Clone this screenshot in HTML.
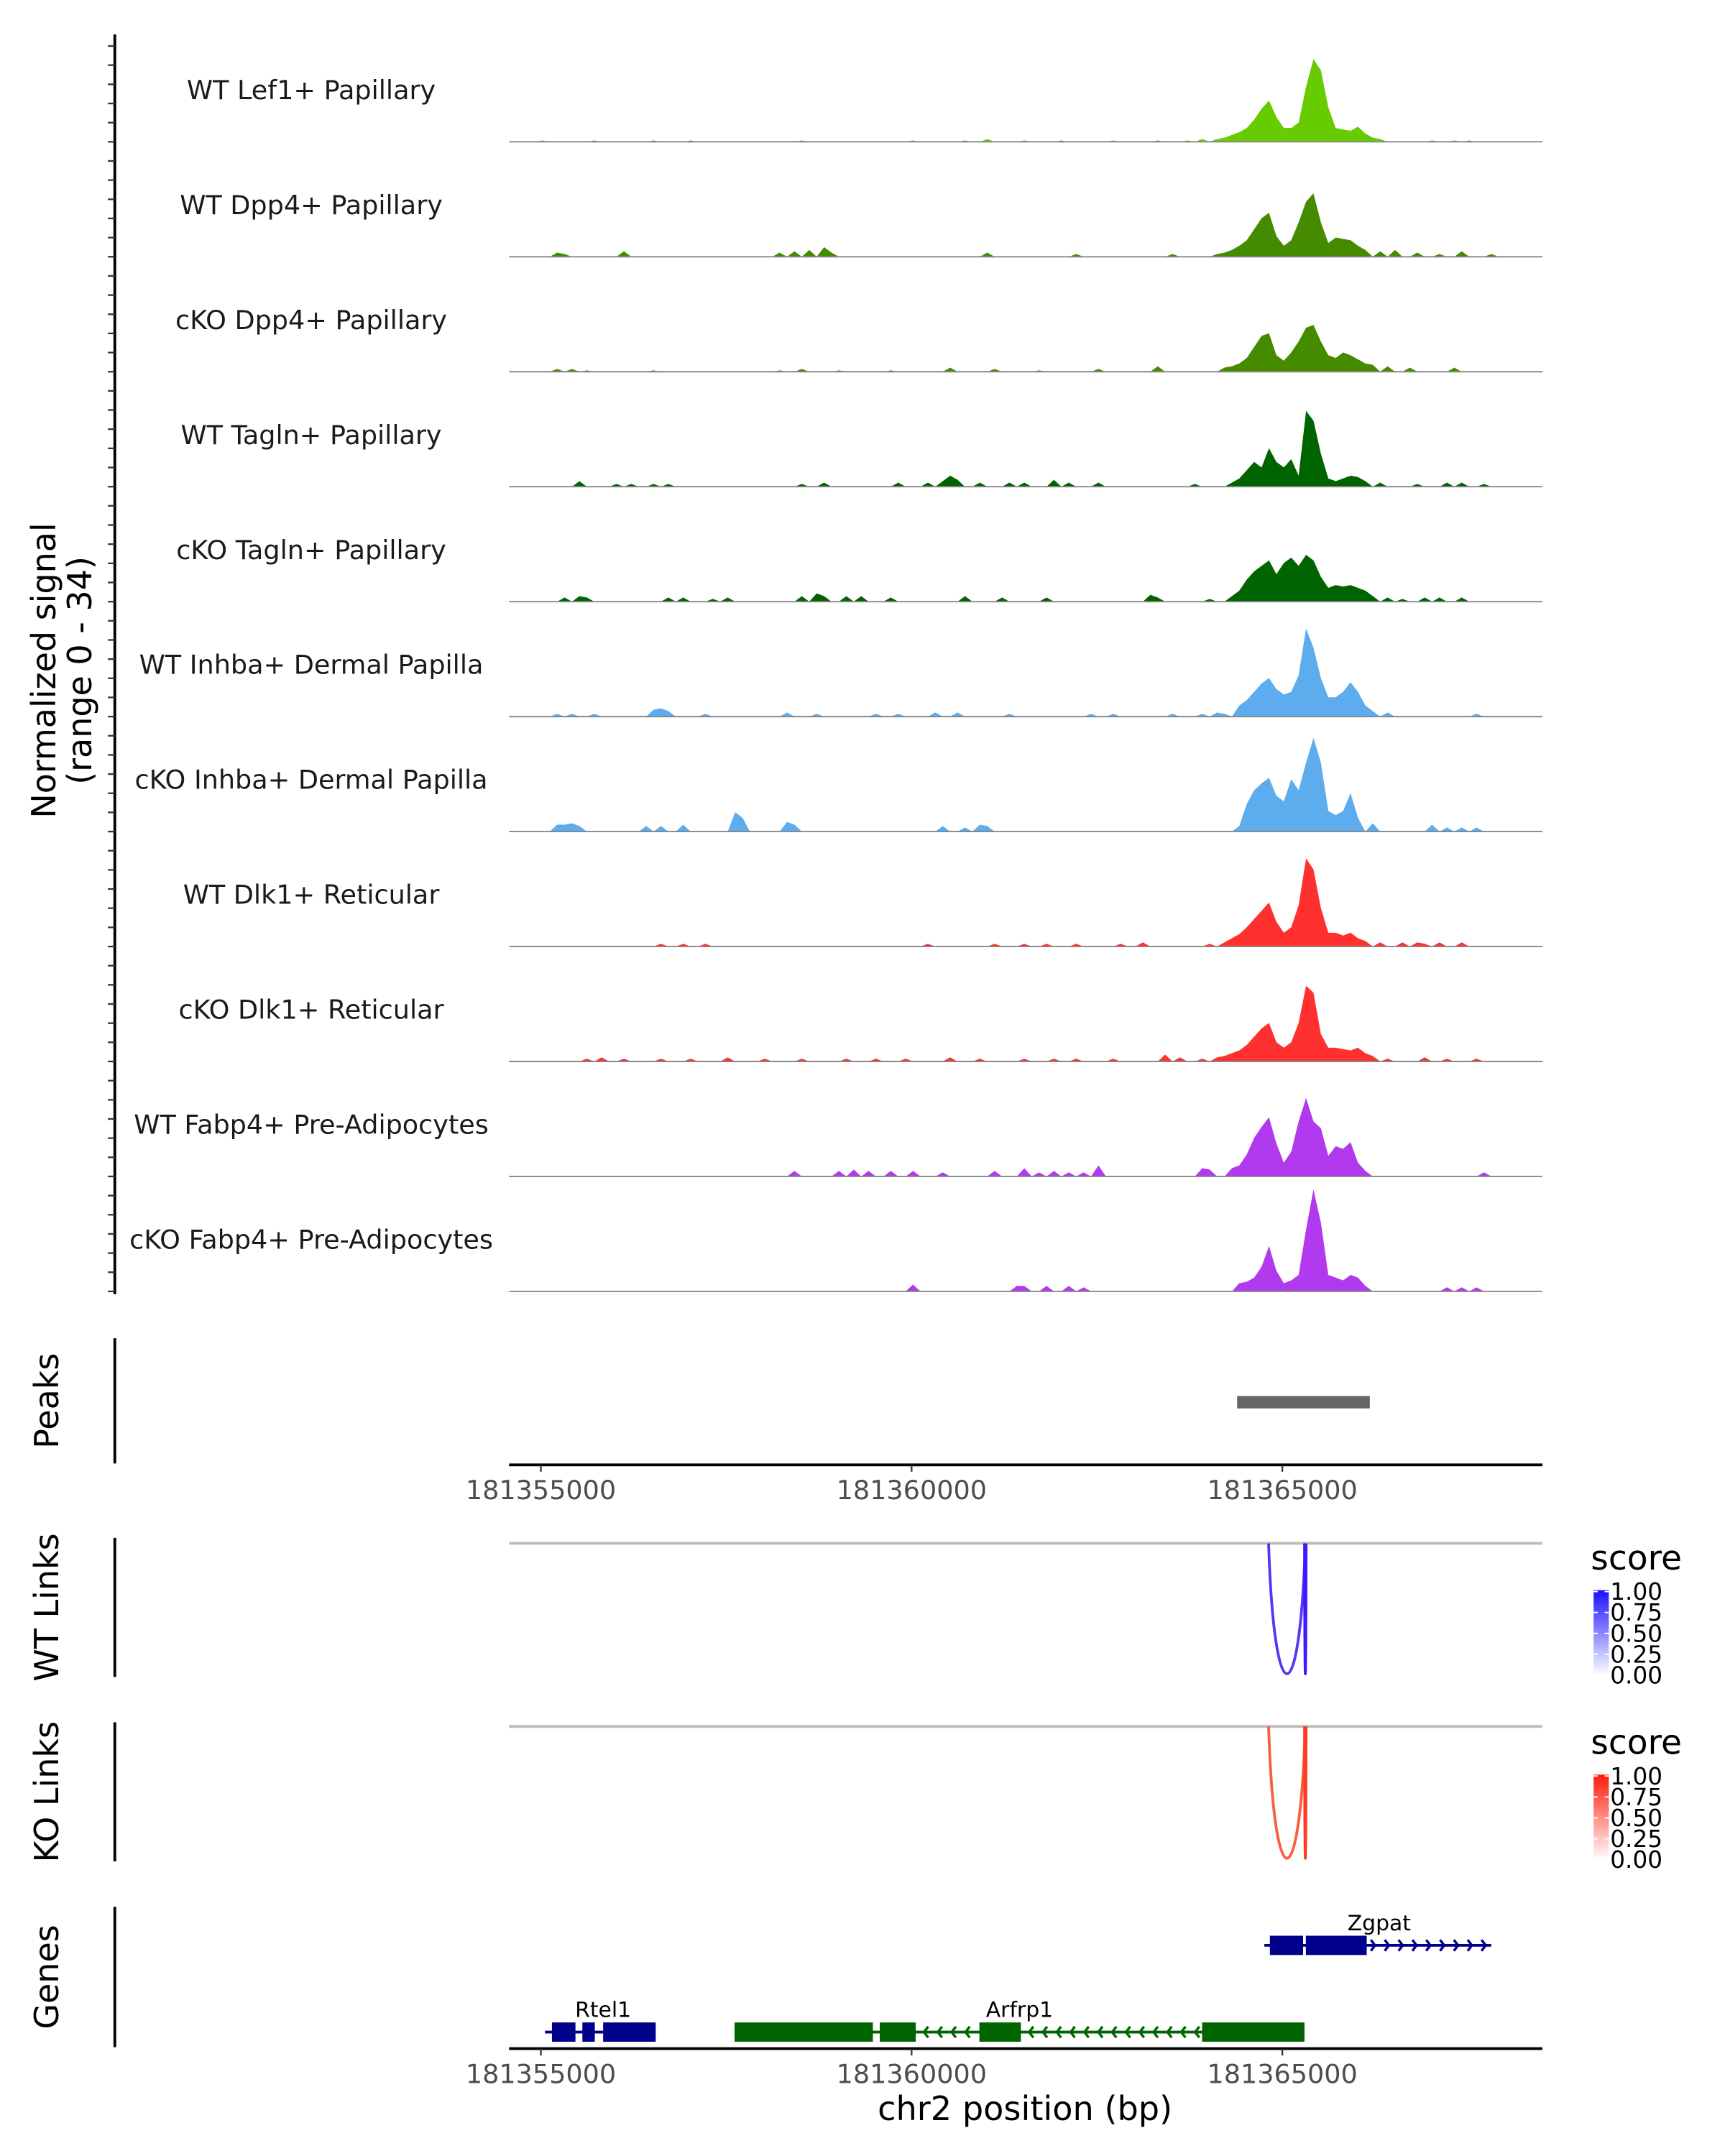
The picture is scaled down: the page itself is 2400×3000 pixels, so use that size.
<!DOCTYPE html>
<html><head><meta charset="utf-8"><style>
html,body{margin:0;padding:0;background:#fff;}
svg{display:block;font-family:"DejaVu Sans","Liberation Sans",sans-serif;}
</style></head><body>
<svg id="chart" width="2400" height="3000" viewBox="0 0 1247 1566" preserveAspectRatio="none" xmlns="http://www.w3.org/2000/svg">
<defs>
<linearGradient id="gWT" x1="0" y1="1" x2="0" y2="0"><stop offset="0" stop-color="#ffffff"/><stop offset="1" stop-color="#1a10ff"/></linearGradient>
<linearGradient id="gKO" x1="0" y1="1" x2="0" y2="0"><stop offset="0" stop-color="#ffffff"/><stop offset="1" stop-color="#ff1a0a"/></linearGradient>
<clipPath id="panelClip"><rect x="368" y="0" width="747" height="1550"/></clipPath>
</defs>
<g id="tracks"></g>
<g id="static"></g>
</svg>
<script>
// ---- data ----
const trackNames = ["WT Lef1+ Papillary","WT Dpp4+ Papillary","cKO Dpp4+ Papillary","WT Tagln+ Papillary","cKO Tagln+ Papillary","WT Inhba+ Dermal Papilla","cKO Inhba+ Dermal Papilla","WT Dlk1+ Reticular","cKO Dlk1+ Reticular","WT Fabp4+ Pre-Adipocytes","cKO Fabp4+ Pre-Adipocytes"];
const trackColors = ["#66cc00","#458b00","#458b00","#006400","#006400","#5cacee","#5cacee","#ff3030","#ff3030","#b23aee","#b23aee"];
const binStart = 181354470;
const binSize = 100;
const nBins = 142;
const xTicks = [181355000,181360000,181365000];

const t1Bins=[5,12,20,25,40,55,62,65,70,75,82,88,92,94,96,97,98,99,100,101,102,103,104,105,106,107,108,109,110,111,112,113,114,115,116,117,118,125,128,130];
const t1Vals=[1,1,1,1,1,1,1,2,1,1,1,1,1,2,2,3,5,7,10,16,24,30,18,10,10,14,40,60,52,25,10,9,8,11,6,3,2,1,1,1];
const t2Bins=[7,8,16,37,39,41,43,44,65,77,90,96,97,98,99,100,101,102,103,104,105,106,107,108,109,110,111,112,113,114,115,116,118,120,123,126,129,133];
const t2Vals=[3,2,4,3,4,5,7,3,3,2,2,2,3,5,8,12,20,28,32,15,8,12,25,40,46,25,10,14,13,12,8,5,4,5,3,2,4,2];
const t3Bins=[7,9,11,20,37,40,45,52,60,66,72,80,88,97,98,99,100,101,102,103,104,105,106,107,108,109,110,111,112,113,114,115,116,117,119,122,128];
const t3Vals=[2,2,1,1,1,2,1,1,3,2,1,2,4,3,4,6,10,18,26,28,12,8,14,22,32,34,22,12,10,14,12,9,6,5,4,3,3];
const t4Bins=[10,15,17,20,22,40,43,53,57,59,60,61,64,68,70,74,76,80,93,98,99,100,101,102,103,104,105,106,107,108,109,110,111,112,113,114,115,116,118,123,127,129,132];
const t4Vals=[4,2,2,2,2,2,3,3,3,4,8,5,3,3,3,5,3,3,2,3,6,12,18,14,28,18,14,20,8,55,48,24,6,4,6,8,7,4,3,2,3,3,2];
const t5Bins=[8,10,11,22,24,28,30,40,42,43,46,48,52,62,67,73,87,88,95,98,99,100,101,102,103,104,105,106,107,108,109,110,111,112,113,114,115,116,117,119,121,124,126,129];
const t5Vals=[3,4,3,3,3,2,3,4,6,4,4,4,3,4,3,3,5,3,2,4,8,16,22,26,30,20,28,32,26,34,30,18,10,12,11,12,10,8,4,3,2,3,3,3];
const t6Bins=[7,9,12,20,21,22,27,38,42,50,53,58,61,68,79,82,90,94,96,97,99,100,101,102,103,104,105,106,107,108,109,110,111,112,113,114,115,116,117,119,131];
const t6Vals=[2,2,2,5,6,4,2,3,2,2,2,3,3,2,2,2,2,2,3,2,8,12,18,24,28,20,16,18,30,64,50,28,14,14,18,25,18,8,4,3,2];
const t7Bins=[7,8,9,10,19,21,24,31,32,38,39,59,62,64,65,99,100,101,102,103,104,105,106,107,108,109,110,111,112,113,114,115,117,125,127,129,131];
const t7Vals=[5,5,6,4,4,4,5,14,10,7,5,4,3,5,4,4,20,30,35,39,26,22,38,30,50,68,50,15,12,15,28,10,6,5,3,3,3];
const t8Bins=[21,24,27,57,66,70,73,77,83,86,95,97,98,99,100,101,102,103,104,105,106,107,108,109,110,111,112,113,114,115,116,118,121,123,124,126,129];
const t8Vals=[2,2,2,2,2,2,2,2,2,3,2,3,6,9,14,20,26,32,18,10,14,30,64,56,28,10,10,8,10,6,4,3,3,3,2,3,3];
const t9Bins=[11,13,16,21,25,30,35,40,46,50,54,60,64,70,74,77,82,89,91,94,96,97,98,99,100,101,102,103,104,105,106,107,108,109,110,111,112,113,114,115,116,117,119,124,127,131];
const t9Vals=[2,3,2,2,2,3,2,2,2,2,2,3,2,2,2,2,2,5,3,2,3,4,6,8,12,18,24,28,14,10,14,28,55,50,20,10,10,9,8,10,6,4,2,3,2,2];
const t10Bins=[39,45,47,49,52,55,59,66,70,72,74,76,78,80,94,95,98,99,100,101,102,103,104,105,106,107,108,109,110,111,112,113,114,115,116,132];
const t10Vals=[4,4,5,4,4,4,3,4,6,3,4,3,3,8,6,5,6,8,16,28,36,43,24,10,18,40,57,40,35,15,22,20,25,10,4,3];
const t11Bins=[55,69,70,73,76,78,99,100,101,102,103,104,105,106,107,108,109,110,111,112,113,114,115,116,127,129,131];
const t11Vals=[5,4,4,4,4,3,6,7,10,18,33,15,6,8,12,45,74,50,12,10,8,12,10,4,3,3,3];

const peakStarts=[181364390];
const peakEnds=[181366180];
const wtLinkStarts=[181364815,181365300];
const wtLinkEnds=[181365310,181365320];
const wtLinkScores=[0.8,1.0];
const koLinkStarts=[181364815,181365300];
const koLinkEnds=[181365310,181365320];
const koLinkScores=[0.7,0.9];

const allBins=[t1Bins,t2Bins,t3Bins,t4Bins,t5Bins,t6Bins,t7Bins,t8Bins,t9Bins,t10Bins,t11Bins];
const allVals=[t1Vals,t2Vals,t3Vals,t4Vals,t5Vals,t6Vals,t7Vals,t8Vals,t9Vals,t10Vals,t11Vals];

// ---- scales ----
const NS="http://www.w3.org/2000/svg";
function xScale(bp){return 391+(bp-181355000)*0.0536;}
const yPx = 1.0;
const trackBase0 = 103, trackStep = 83.5;
function mk(tag,attrs,parent,txt){const e=document.createElementNS(NS,tag);for(const k in attrs)e.setAttribute(k,attrs[k]);if(txt!==undefined)e.textContent=txt;parent.appendChild(e);return e;}
const svg=document.getElementById('chart');
const tracksG=document.getElementById('tracks');
const st=document.getElementById('static');

// signal tracks
for(let t=0;t<11;t++){
  const base=trackBase0+t*trackStep;
  const vals=new Array(nBins).fill(0);
  allBins[t].forEach((b,i)=>{vals[b]=allVals[t][i];});
  let d="M"+xScale(binStart).toFixed(2)+","+base;
  for(let b=0;b<nBins;b++){const x=xScale(binStart+b*binSize+binSize/2);d+=" L"+x.toFixed(2)+","+(base-vals[b]*yPx).toFixed(2);}
  d+=" L"+xScale(binStart+nBins*binSize).toFixed(2)+","+base+" Z";
  const p=mk('path',{d:d,fill:trackColors[t],'clip-path':'url(#panelClip)'},tracksG);
  
  
  const l=mk('line',{x1:368,x2:1115,y1:base,y2:base,stroke:'#888',"stroke-width":1},tracksG);
  
  
  const lab=mk('text',{x:225,y:base-31,'text-anchor':'middle','font-size':19,fill:'#1a1a1a'},tracksG,trackNames[t]);
  
  
}

// left axis & ticks
const ax=mk('line',{x1:83,x2:83,y1:25,y2:940,stroke:'#000','stroke-width':2},st);


for(let y=938;y>=25;y-=trackStep/6){
  const tk=mk('line',{x1:78,x2:83,y1:y,y2:y,stroke:'#333','stroke-width':1.2},st);
  
  
}
const yt=mk('text',{transform:'translate(40,487) rotate(-90)','text-anchor':'middle','font-size':24,fill:'#000'},st);


mk('tspan',{x:0,y:0},yt,'Normalized signal');
mk('tspan',{x:0,y:26},yt,'(range 0 - 34)');

// section axis helper
function sideAxis(y1,y2,label,name){
  const a=mk('line',{x1:83,x2:83,y1:y1,y2:y2,stroke:'#000','stroke-width':2},st);
  
  
  const t=mk('text',{transform:'translate(42,'+((y1+y2)/2)+') rotate(-90)','text-anchor':'middle','font-size':24,fill:'#000'},st,label);
  
  
}
sideAxis(972,1063,'Peaks','peaks');
sideAxis(1117,1218,'WT Links','wt-links');
sideAxis(1251,1352,'KO Links','ko-links');
sideAxis(1385,1487,'Genes','genes');

// peaks
peakStarts.forEach((s,i)=>{
  const r=mk('rect',{x:xScale(s),y:1014,width:xScale(peakEnds[i])-xScale(s),height:9,fill:'#666'},st);
  
  
});

// x axes
function xAxis(y,name){
  const a=mk('line',{x1:368,x2:1115,y1:y,y2:y,stroke:'#000','stroke-width':2},st);
  
  
  xTicks.forEach(v=>{
    const x=xScale(v);
    const tk=mk('line',{x1:x,x2:x,y1:y,y2:y+5,stroke:'#333','stroke-width':1.2},st);
    
    
    const tl=mk('text',{x:x,y:y+25,'text-anchor':'middle','font-size':19,fill:'#4d4d4d'},st,String(v));
    
    
  });
}
xAxis(1064,'peaks-x-axis');
xAxis(1488,'genes-x-axis');
const xt=mk('text',{x:741,y:1540,'text-anchor':'middle','font-size':24,fill:'#000'},st,'chr2 position (bp)');



// links
function links(top,depth,starts,ends,scores,c0,c1,name){
  const g=mk('line',{x1:368,x2:1115,y1:top,y2:top,stroke:'#bbb','stroke-width':2},st);
  
  
  starts.forEach((s,i)=>{
    const x1=xScale(s),x2=xScale(ends[i]);
    const col=scores[i]>0.85?c1:c0;
    const p=mk('path',{d:'M'+x1+','+top+' C'+(x1+(x2-x1)*0.15)+','+(top+depth*1.33)+' '+(x1+(x2-x1)*0.85)+','+(top+depth*1.33)+' '+x2+','+top,fill:'none',stroke:col,'stroke-width':2},st);
    
    
  });
}
links(1121,95,wtLinkStarts,wtLinkEnds,wtLinkScores,'#5a35f5','#3a1aff','wt-link');
links(1254,96,koLinkStarts,koLinkEnds,koLinkScores,'#f7603f','#ff3a22','ko-link');

function legend(y,grad,name){
  const t=mk('text',{x:1150,y:y,'font-size':24.5,fill:'#000'},st,'score');
  
  
  const r=mk('rect',{x:1152,y:y+15,width:11,height:62,fill:'url(#'+grad+')'},st);
  
  
  ['1.00','0.75','0.50','0.25','0.00'].forEach((s,i)=>{
    const ty=y+16+i*15.2;
    mk('line',{x1:1152,x2:1155,y1:ty,y2:ty,stroke:'#fff','stroke-width':1},st);
    mk('line',{x1:1160,x2:1163,y1:ty,y2:ty,stroke:'#fff','stroke-width':1},st);
    const l=mk('text',{x:1164,y:ty+6,'font-size':17,fill:'#000'},st,s);
    
    
  });
}
legend(1140,'gWT','wt-score-legend');
legend(1274,'gKO','ko-score-legend');

// genes
function gene(name,y,x1,x2,exons,dir,col,labelX){
  const g=mk('g',{},st);
  
  
  mk('line',{x1:x1,x2:x2,y1:y,y2:y,stroke:col,'stroke-width':2},g);
  exons.forEach(e=>mk('rect',{x:e[0],y:y-7,width:e[1]-e[0],height:14,fill:col},g));
  const gaps=[];let prev=x1;
  exons.forEach(e=>{if(e[0]-prev>12)gaps.push([prev,e[0]]);prev=e[1];});
  if(x2-prev>12)gaps.push([prev,x2]);
  gaps.forEach(gp=>{for(let x=gp[0]+6;x<gp[1]-3;x+=10){
    const dd=dir>0?'M'+(x-3)+','+(y-4)+' L'+x+','+y+' L'+(x-3)+','+(y+4):'M'+(x+3)+','+(y-4)+' L'+x+','+y+' L'+(x+3)+','+(y+4);
    mk('path',{d:dd,fill:'none',stroke:col,'stroke-width':1.8},g);}});
  const t=mk('text',{x:labelX,y:y-11,'text-anchor':'middle','font-size':15.5,fill:'#000'},g,name);
  
  
}
gene('Zgpat',1413,914,1078,[[918,942],[944,988]],1,'#00008b',997);
gene('Rtel1',1476,394,474,[[399,416],[421,430],[436,474]],1,'#00008b',436);
gene('Arfrp1',1476,531,943,[[531,631],[636,662],[708,738],[869,943]],-1,'#006400',737);
</script>
</body></html>
